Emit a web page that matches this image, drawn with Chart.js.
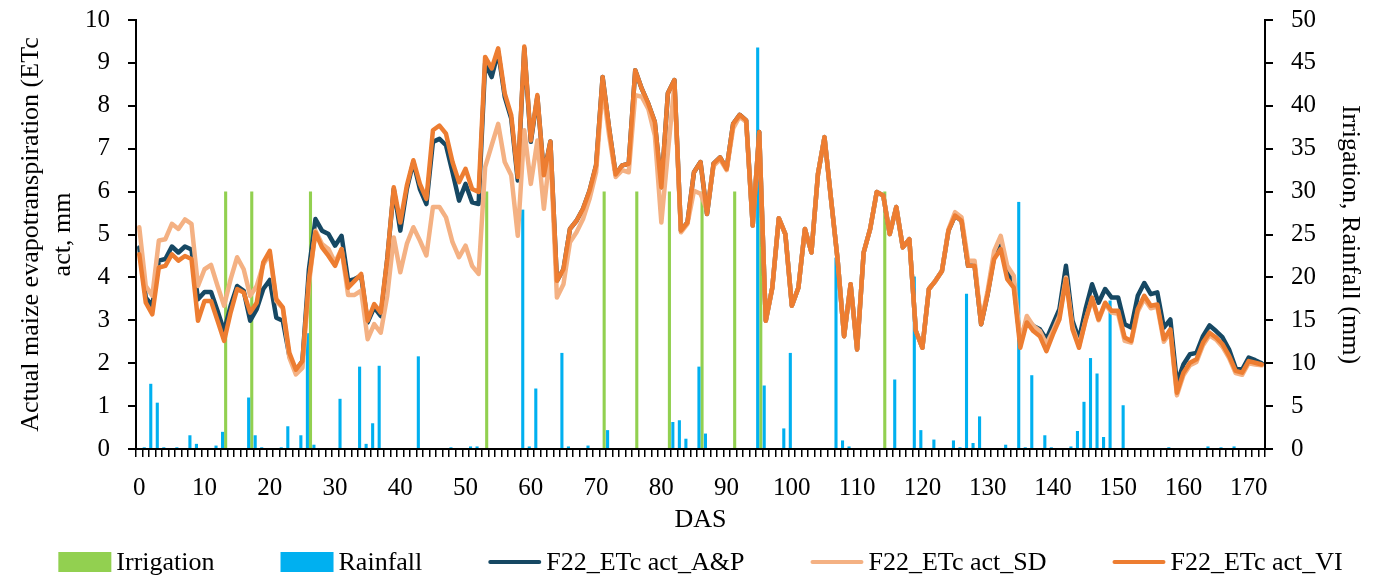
<!DOCTYPE html>
<html>
<head>
<meta charset="utf-8">
<script src="https://cdn.jsdelivr.net/npm/chart.js@4.4.1/dist/chart.umd.min.js"></script>
<style>
  html, body { margin: 0; padding: 0; background: #fff; }
  #wrap { width: 1377px; height: 578px; }
</style>
</head>
<body>
<div id="wrap"><canvas id="chart" width="1377" height="578"></canvas></div>
<script>
// days after sowing, one category per day
const das = Array.from({ length: 173 }, (_, i) => String(i));

const irrigationDays = [13, 17, 26, 53, 71, 76, 81, 86, 91, 95, 114];
const irrigationMm = [30, 30, 30, 30, 30, 30, 30, 30, 30, 30, 30];

const rainDays = [1, 2, 3, 4, 6, 8, 9, 12, 13, 17, 18, 19, 22, 23, 25, 26, 27, 31, 34, 35,
  36, 37, 43, 48, 51, 52, 59, 60, 61, 65, 66, 69, 72, 82, 83, 84, 86, 87, 95, 96,
  99, 100, 107, 108, 109, 116, 119, 120, 122, 125, 126, 127, 128, 129, 133, 135, 136, 137, 139, 140,
  143, 144, 145, 146, 147, 148, 149, 151, 158, 164, 166, 168];
const rainMm = [0.2, 7.6, 5.4, 0.2, 0.2, 1.6, 0.6, 0.4, 2.0, 6.0, 1.6, 0.2, 0.2, 2.65, 1.6, 13.5, 0.5, 5.85, 9.6, 0.6,
  3.0, 9.7, 10.8, 0.2, 0.3, 0.3, 27.9, 0.3, 7.05, 11.2, 0.3, 0.4, 2.2, 3.15, 3.35, 1.2, 9.6, 1.8, 46.8, 7.4,
  2.4, 11.2, 22.3, 1.0, 0.3, 8.1, 20.1, 2.2, 1.1, 1.0, 0.2, 18.1, 0.7, 3.8, 0.5, 28.8, 0.2, 8.6, 1.6, 0.2,
  0.3, 2.1, 5.5, 10.6, 8.8, 1.4, 17.3, 5.1, 0.2, 0.3, 0.2, 0.3];

const etcAP = [4.70, 3.53, 3.34, 4.39, 4.43, 4.72, 4.58, 4.72, 4.65, 3.49,
  3.66, 3.66, 3.22, 2.75, 3.34, 3.80, 3.69, 2.99, 3.26, 3.73,
  3.94, 3.06, 2.99, 2.17, 1.82, 2.05, 4.19, 5.36, 5.09, 5.01,
  4.74, 4.97, 3.92, 3.96, 4.04, 2.95, 3.30, 3.10, 4.43, 6.06,
  5.09, 6.06, 6.69, 6.06, 5.71, 7.16, 7.23, 7.08, 6.45, 5.79,
  6.18, 5.75, 5.71, 8.99, 8.67, 9.26, 8.21, 7.70, 6.26, 9.34,
  7.16, 8.21, 6.41, 7.17, 3.92, 4.19, 5.13, 5.32, 5.60, 6.02,
  6.61, 8.67, 7.47, 6.40, 6.61, 6.65, 8.83, 8.40, 8.05, 7.62,
  6.10, 8.29, 8.60, 5.09, 5.28, 6.45, 6.69, 5.48, 6.65, 6.80,
  6.53, 7.58, 7.79, 7.66, 5.21, 7.39, 2.99, 3.76, 5.38, 5.01,
  3.34, 3.76, 5.13, 4.58, 6.41, 7.27, 5.83, 4.43, 2.63, 3.84,
  2.32, 4.58, 5.13, 5.99, 5.91, 5.01, 5.64, 4.70, 4.89, 2.75,
  2.36, 3.73, 3.92, 4.15, 5.09, 5.44, 5.32, 4.27, 4.27, 2.91,
  3.61, 4.50, 4.74, 4.12, 3.88, 2.48, 3.02, 2.87, 2.79, 2.56,
  2.91, 3.26, 4.27, 2.99, 2.56, 3.26, 3.84, 3.41, 3.73, 3.53,
  3.53, 2.91, 2.83, 3.57, 3.87, 3.61, 3.65, 2.83, 3.02, 1.54,
  1.97, 2.21, 2.24, 2.63, 2.88, 2.75, 2.60, 2.32, 1.89, 1.85,
  2.13, 2.07, 2.00];

const etcSD = [5.17, 3.80, 3.57, 4.86, 4.89, 5.25, 5.13, 5.35, 5.25, 3.80,
  4.19, 4.29, 3.80, 3.34, 3.96, 4.47, 4.19, 3.57, 3.80, 4.30,
  4.55, 3.45, 3.28, 2.13, 1.74, 1.89, 3.85, 5.09, 4.78, 4.66,
  4.35, 4.66, 3.59, 3.59, 3.69, 2.56, 2.91, 2.71, 3.57, 4.93,
  4.12, 4.78, 5.17, 4.86, 4.51, 5.64, 5.64, 5.40, 4.82, 4.47,
  4.74, 4.27, 4.08, 6.57, 7.08, 7.58, 6.69, 6.38, 4.97, 7.43,
  6.18, 7.19, 5.60, 7.00, 3.53, 3.84, 4.82, 5.05, 5.36, 5.83,
  6.45, 8.44, 7.31, 6.34, 6.50, 6.45, 8.25, 8.21, 7.93, 7.31,
  5.28, 6.90, 8.50, 5.05, 5.25, 6.02, 5.95, 5.56, 6.60, 6.75,
  6.50, 7.47, 7.75, 7.62, 5.21, 7.35, 2.99, 3.76, 5.38, 5.01,
  3.34, 3.76, 5.13, 4.58, 6.41, 7.27, 5.83, 4.43, 2.63, 3.84,
  2.32, 4.58, 5.13, 5.99, 5.91, 5.01, 5.64, 4.70, 4.89, 2.75,
  2.36, 3.73, 3.92, 4.15, 5.12, 5.52, 5.40, 4.39, 4.39, 2.95,
  3.69, 4.62, 4.97, 4.27, 4.04, 2.50, 3.10, 2.87, 2.75, 2.45,
  2.75, 3.10, 4.00, 2.85, 2.40, 3.00, 3.50, 3.00, 3.38, 3.18,
  3.15, 2.52, 2.48, 3.20, 3.50, 3.28, 3.32, 2.50, 2.72, 1.25,
  1.72, 1.95, 2.03, 2.42, 2.65, 2.55, 2.38, 2.12, 1.77, 1.73,
  2.00, 1.97, 1.95];

const etcVI = [4.54, 3.41, 3.14, 4.23, 4.27, 4.54, 4.39, 4.50, 4.43, 2.99,
  3.45, 3.45, 2.99, 2.52, 3.18, 3.73, 3.65, 3.18, 3.41, 4.35,
  4.62, 3.49, 3.30, 2.24, 1.85, 2.05, 3.96, 5.05, 4.70, 4.50,
  4.27, 4.66, 3.76, 3.92, 4.08, 2.99, 3.38, 3.18, 4.43, 6.10,
  5.28, 6.14, 6.73, 6.18, 5.83, 7.43, 7.54, 7.35, 6.69, 6.22,
  6.53, 6.06, 5.99, 9.14, 8.87, 9.34, 8.29, 7.78, 6.34, 9.38,
  7.19, 8.25, 6.38, 7.17, 3.92, 4.19, 5.13, 5.32, 5.60, 6.02,
  6.61, 8.67, 7.47, 6.40, 6.61, 6.65, 8.83, 8.40, 8.05, 7.62,
  6.10, 8.29, 8.60, 5.09, 5.28, 6.45, 6.69, 5.48, 6.65, 6.80,
  6.53, 7.58, 7.79, 7.66, 5.21, 7.39, 2.99, 3.76, 5.38, 5.01,
  3.34, 3.76, 5.13, 4.58, 6.41, 7.27, 5.83, 4.43, 2.63, 3.84,
  2.32, 4.58, 5.13, 5.99, 5.91, 5.01, 5.64, 4.70, 4.89, 2.75,
  2.36, 3.73, 3.92, 4.15, 5.09, 5.44, 5.32, 4.27, 4.27, 2.91,
  3.61, 4.43, 4.66, 3.96, 3.76, 2.36, 2.95, 2.75, 2.63, 2.28,
  2.67, 3.02, 3.96, 2.79, 2.36, 2.99, 3.53, 3.02, 3.41, 3.22,
  3.22, 2.60, 2.52, 3.26, 3.57, 3.34, 3.37, 2.56, 2.79, 1.31,
  1.78, 2.01, 2.09, 2.48, 2.71, 2.60, 2.44, 2.17, 1.82, 1.78,
  2.05, 2.01, 1.97];

const FONT = "'Liberation Serif', 'Times New Roman', serif";

// spread the (day, mm) pairs onto the daily category axis
function toDaily(days, values) {
  const out = das.map(() => 0);
  days.forEach((d, i) => { out[d] = values[i]; });
  return out;
}

// legend drawn by hand so swatch sizes and gaps follow the original
const bottomLegend = {
  id: "bottomLegend",
  afterDraw(chart) {
    const ctx = chart.ctx;
    const area = chart.chartArea;
    const y = 562;
    const swatch = 53, textGap = 5, itemGap = 66;
    ctx.save();
    ctx.font = "26px " + FONT;
    ctx.textBaseline = "middle";
    const items = chart.data.datasets.map(ds => ({
      label: ds.label,
      color: ds.type === "line" ? ds.borderColor : ds.backgroundColor,
      isLine: ds.type === "line",
      w: swatch + textGap + ctx.measureText(ds.label).width
    }));
    const total = items.reduce((s, it) => s + it.w, 0) + itemGap * (items.length - 1);
    let x = (area.left + area.right) / 2 - total / 2;
    items.forEach(it => {
      if (it.isLine) {
        ctx.strokeStyle = it.color;
        ctx.lineWidth = 4;
        ctx.lineCap = "round";
        ctx.beginPath();
        ctx.moveTo(x + 2, y);
        ctx.lineTo(x + swatch - 2, y);
        ctx.stroke();
      } else {
        ctx.fillStyle = it.color;
        ctx.fillRect(x, y - 10, swatch, 20);
      }
      ctx.fillStyle = "#000";
      ctx.fillText(it.label, x + swatch + textGap, y + 1);
      x += it.w + itemGap;
    });
    ctx.restore();
  }
};

// fixed side width, and no extra top/bottom room for the tick labels
function fixVertical(width) {
  return s => {
    s.width = width;
    s.paddingTop = 0;
    s.paddingBottom = 0;
  };
}

document.addEventListener("DOMContentLoaded", () => {
  const ctx = document.getElementById("chart").getContext("2d");

  Chart.defaults.font.family = FONT;
  Chart.defaults.font.size = 25;
  Chart.defaults.color = "#000";

  const lineStyle = { type: "line", yAxisID: "y", pointRadius: 0, borderWidth: 4.5, tension: 0,
    borderJoinStyle: "round", borderCapStyle: "round", fill: false };

  new Chart(ctx, {
    type: "bar",
    data: {
      labels: das,
      datasets: [
        { type: "bar", label: "Irrigation", data: toDaily(irrigationDays, irrigationMm), yAxisID: "y1",
          backgroundColor: "#92D050", order: 5 },
        { type: "bar", label: "Rainfall", data: toDaily(rainDays, rainMm), yAxisID: "y1",
          backgroundColor: "#00B0F0", order: 4 },
        Object.assign({ label: "F22_ETc act_A&P", data: etcAP, borderColor: "#164863", order: 3 }, lineStyle),
        Object.assign({ label: "F22_ETc act_SD", data: etcSD, borderColor: "#F4B183", order: 2 }, lineStyle),
        Object.assign({ label: "F22_ETc act_VI", data: etcVI, borderColor: "#ED7D31", order: 1 }, lineStyle)
      ]
    },
    options: {
      responsive: false,
      animation: false,
      devicePixelRatio: 1,
      categoryPercentage: 0.95,
      barPercentage: 1.0,
      layout: { padding: { top: 20, bottom: 40, left: 0, right: 0 } },
      plugins: { legend: { display: false }, tooltip: { enabled: false } },
      scales: {
        x: {
          offset: true,
          grid: { offset: true, drawOnChartArea: false, color: "#000", lineWidth: 1.5, tickLength: 8 },
          border: { color: "#000", width: 2 },
          ticks: {
            autoSkip: false, maxRotation: 0, padding: 16,
            callback: (v, i) => (i % 10 === 0 ? das[i] : "")
          },
          title: { display: true, text: "DAS", font: { size: 26, lineHeight: 1.2 }, padding: { top: 0, bottom: 2 } },
          afterFit: s => { s.height = 89; }
        },
        y: {
          position: "left", min: 0, max: 10,
          grid: { drawOnChartArea: false, color: "#000", lineWidth: 2, tickLength: 8 },
          border: { color: "#000", width: 2 },
          ticks: { stepSize: 1, padding: 18 },
          title: { display: true, text: ["Actual maize evapotranspiration (ETc", "act, mm"],
            font: { size: 26, lineHeight: 1.2 }, padding: { top: 16, bottom: 0 } },
          afterFit: fixVertical(136)
        },
        y1: {
          position: "right", min: 0, max: 50,
          grid: { drawOnChartArea: false, color: "#000", lineWidth: 2, tickLength: 8 },
          border: { color: "#000", width: 2 },
          ticks: { stepSize: 5, padding: 18 },
          title: { display: true, text: "Irrigation, Rainfall (mm)",
            font: { size: 26, lineHeight: 1.2 }, padding: { top: 12, bottom: 0 } },
          afterFit: fixVertical(112)
        }
      }
    },
    plugins: [bottomLegend]
  });
});
</script>
</body>
</html>
